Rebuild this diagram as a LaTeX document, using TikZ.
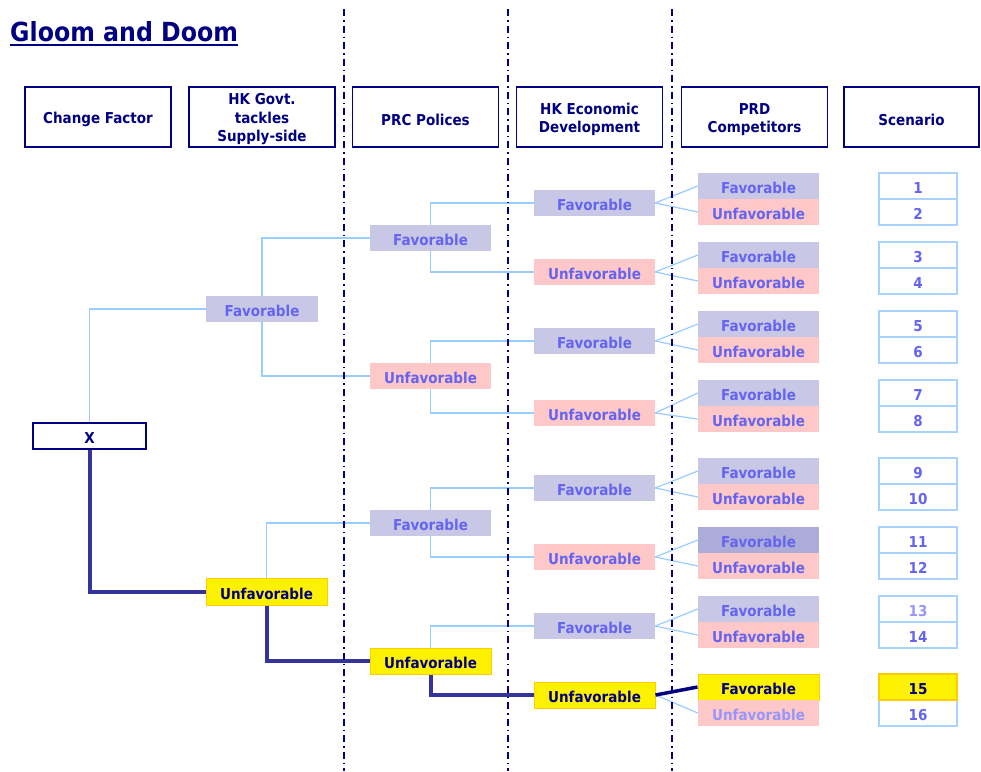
\documentclass[tikz,border=0pt]{standalone}
\usepackage{fontspec}
\setmainfont{DejaVu Sans}[FakeStretch=0.9]
\definecolor{navy}{RGB}{0,0,128}
\definecolor{pathc}{RGB}{51,51,153}
\definecolor{lblue}{RGB}{153,204,255}
\definecolor{favc}{RGB}{200,200,230}
\definecolor{favd}{RGB}{172,172,216}
\definecolor{unfc}{RGB}{255,200,200}
\definecolor{tblue}{RGB}{100,100,240}
\definecolor{tlight}{RGB}{150,150,250}
\definecolor{selb}{RGB}{255,204,0}
\definecolor{numb}{RGB}{170,210,255}
\newcommand\tnfont{\fontsize{15}{17}\selectfont\bfseries}
\newcommand\hdrfont{\fontsize{15}{18.5}\selectfont\bfseries}
\begin{document}
\begin{tikzpicture}[x=1pt,y=-1pt,
  hdrbox/.style={draw=navy, line width=1.2pt, fill=white, minimum width=146pt, minimum height=60pt, inner sep=0pt},
  hdrtext/.style={inner sep=0pt, align=center, text=navy, font=\hdrfont},
  tn/.style={minimum height=26pt, minimum width=121pt, inner sep=0pt, font=\tnfont, text=tblue, text height=15pt, text depth=0pt},
  fav/.style={tn, fill=favc},
  unf/.style={tn, fill=unfc},
  sel/.style={tn, fill=yellow, draw=selb, line width=1pt, text=navy},
  num/.style={tn, draw=numb, line width=1.3pt, fill=white, minimum width=78pt},
  thin/.style={draw=lblue, line width=1.2pt},
  thick/.style={draw=pathc, line width=4pt},
  sepline/.style={draw=navy, line width=1.8pt, dash pattern=on 7pt off 4pt on 1.5pt off 4pt}]
\useasboundingbox (0,0) rectangle (981,771);
\fill[white] (0,0) rectangle (981,771);

% title
\node[anchor=base west, inner sep=0pt, text=navy, font=\fontsize{26.3}{30}\selectfont\bfseries] (title) at (10,41) {Gloom and Doom};
\draw[navy, line width=2pt] ([yshift=-4pt]title.base west) -- ([yshift=-4pt]title.base east);

% headers
\node[hdrbox] (h1) at (98,117) {};
\node[hdrbox] (h2) at (262,117) {};
\node[hdrbox] (h3) at (425.5,117) {};
\node[hdrbox] (h4) at (589.5,117) {};
\node[hdrbox] (h5) at (754.5,117) {};
\node[hdrbox, minimum width=135pt] (h6) at (911.5,117) {};
\node[hdrtext] (h1t) at ([yshift=-2.5pt]h1.center) {Change Factor};
\node[hdrtext] (h2t) at ([yshift=-2.5pt]h2.center) {HK Govt.\\tackles\\Supply-side};
\node[hdrtext] (h3t) at ([yshift=-2.5pt]h3.center) {PRC Polices};
\node[hdrtext] (h4t) at ([yshift=-2.5pt]h4.center) {HK Economic\\Development};
\node[hdrtext] (h5t) at ([yshift=-2.5pt]h5.center) {PRD\\Competitors};
\node[hdrtext] (h6t) at ([yshift=-2.5pt]h6.center) {Scenario};

% root
\node[tn, draw=navy, line width=1.2pt, fill=white, minimum width=113pt, text=navy] (x) at (89.5,436) {X};

% level 1
\node[fav, minimum width=112pt] (f1) at (262,309) {Favorable};
\node[sel, minimum height=27pt] (u1) at (266.5,591.5) {Unfavorable};

% level 2
\node[fav] (f2a) at (430.5,238) {Favorable};
\node[unf] (u2a) at (430.5,376) {Unfavorable};
\node[fav] (f2b) at (430.5,523) {Favorable};
\node[sel] (u2b) at (430.5,661) {Unfavorable};

% level 3
\node[fav] (f3a) at (594.5,203) {Favorable};
\node[unf] (u3a) at (594.5,272) {Unfavorable};
\node[fav] (f3b) at (594.5,341) {Favorable};
\node[unf] (u3b) at (594.5,413) {Unfavorable};
\node[fav] (f3c) at (594.5,488) {Favorable};
\node[unf] (u3c) at (594.5,557) {Unfavorable};
\node[fav] (f3d) at (594.5,626) {Favorable};
\node[sel] (u3d) at (594.5,695) {Unfavorable};

% level 4 and scenarios
\node[fav] (f4a) at (758.5,186) {Favorable};
\node[unf] (u4a) at (758.5,212) {Unfavorable};
\node[fav] (f4b) at (758.5,255) {Favorable};
\node[unf] (u4b) at (758.5,281) {Unfavorable};
\node[fav] (f4c) at (758.5,324) {Favorable};
\node[unf] (u4c) at (758.5,350) {Unfavorable};
\node[fav] (f4d) at (758.5,393) {Favorable};
\node[unf] (u4d) at (758.5,419) {Unfavorable};
\node[fav] (f4e) at (758.5,471) {Favorable};
\node[unf] (u4e) at (758.5,497) {Unfavorable};
\node[fav, fill=favd] (f4f) at (758.5,540) {Favorable};
\node[unf] (u4f) at (758.5,566) {Unfavorable};
\node[fav] (f4g) at (758.5,609) {Favorable};
\node[unf] (u4g) at (758.5,635) {Unfavorable};
\node[sel] (f4h) at (758.5,687) {Favorable};
\node[unf, text=tlight] (u4h) at (758.5,713) {Unfavorable};

\node[num] (n1) at (918,186) {1};
\node[num] (n2) at (918,212) {2};
\node[num] (n3) at (918,255) {3};
\node[num] (n4) at (918,281) {4};
\node[num] (n5) at (918,324) {5};
\node[num] (n6) at (918,350) {6};
\node[num] (n7) at (918,393) {7};
\node[num] (n8) at (918,419) {8};
\node[num] (n9) at (918,471) {9};
\node[num] (n10) at (918,497) {10};
\node[num] (n11) at (918,540) {11};
\node[num] (n12) at (918,566) {12};
\node[num, text=tlight] (n13) at (918,609) {13};
\node[num] (n14) at (918,635) {14};
\node[num] (n16) at (918,713) {16};
\node[num, fill=yellow, draw=selb, text=navy] (n15) at (918,687) {15};

% connectors (thin)
\draw[thin] (x.north) |- (f1.west);
\draw[thin] (f1.north) |- (f2a.west);
\draw[thin] (f1.south) |- (u2a.west);
\draw[thin] (u1.north) |- (f2b.west);
\draw[thin] (f2a.north) |- (f3a.west);
\draw[thin] (f2a.south) |- (u3a.west);
\draw[thin] (u2a.north) |- (f3b.west);
\draw[thin] (u2a.south) |- (u3b.west);
\draw[thin] (f2b.north) |- (f3c.west);
\draw[thin] (f2b.south) |- (u3c.west);
\draw[thin] (u2b.north) |- (f3d.west);
\foreach \a/\b/\c in {f3a/f4a/u4a, u3a/f4b/u4b, f3b/f4c/u4c, u3b/f4d/u4d, f3c/f4e/u4e, u3c/f4f/u4f, f3d/f4g/u4g}{
  \draw[thin] (\a.east) -- (\b.west);
  \draw[thin] (\a.east) -- (\c.west);
}
\draw[thin] (u3d.east) -- (u4h.west);

% selected path
\draw[thick] (x.south) |- (u1.west);
\draw[thick] (u1.south) |- (u2b.west);
\draw[thick] (u2b.south) |- (u3d.west);
\draw[draw=navy, line width=3.5pt] (u3d.east) -- (f4h.west);

% separators
\foreach \sx in {344,508,672}{
  \draw[sepline] (\sx,9) -- (\sx,771);
}
\end{tikzpicture}
\end{document}
